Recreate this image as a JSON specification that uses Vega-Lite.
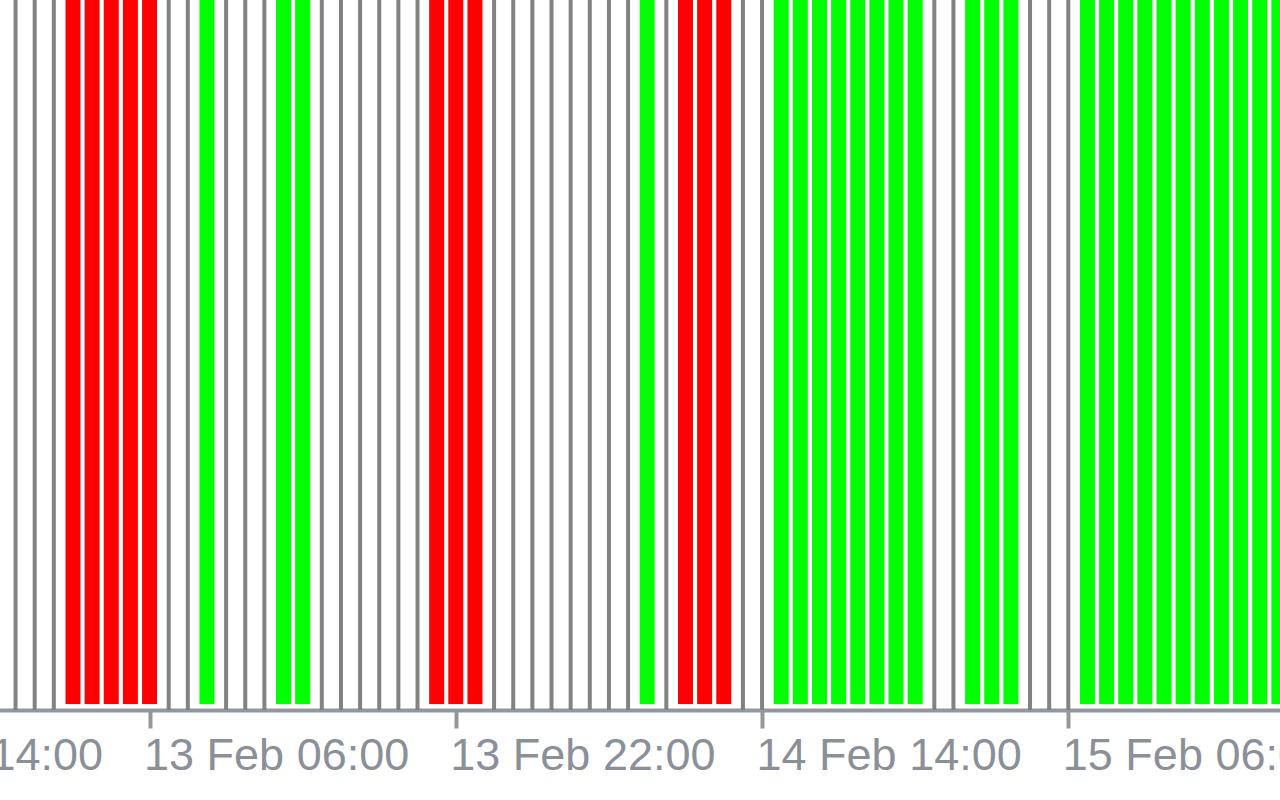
{
  "$schema": "https://vega.github.io/schema/vega-lite/v6.json",
  "width": 1493,
  "height": 710,
  "autosize": {"type": "none"},
  "padding": {"left": -195, "top": 0, "right": -18, "bottom": 90},
  "background": "white",
  "config": {"view": {"stroke": null}},
  "data": {"values": [
    {"time": "2025-02-12T23:00:00Z", "signal": "none", "v": 1},
    {"time": "2025-02-13T00:00:00Z", "signal": "none", "v": 1},
    {"time": "2025-02-13T01:00:00Z", "signal": "none", "v": 1},
    {"time": "2025-02-13T02:00:00Z", "signal": "sell", "v": 1},
    {"time": "2025-02-13T03:00:00Z", "signal": "sell", "v": 1},
    {"time": "2025-02-13T04:00:00Z", "signal": "sell", "v": 1},
    {"time": "2025-02-13T05:00:00Z", "signal": "sell", "v": 1},
    {"time": "2025-02-13T06:00:00Z", "signal": "sell", "v": 1},
    {"time": "2025-02-13T07:00:00Z", "signal": "none", "v": 1},
    {"time": "2025-02-13T08:00:00Z", "signal": "none", "v": 1},
    {"time": "2025-02-13T09:00:00Z", "signal": "buy", "v": 1},
    {"time": "2025-02-13T10:00:00Z", "signal": "none", "v": 1},
    {"time": "2025-02-13T11:00:00Z", "signal": "none", "v": 1},
    {"time": "2025-02-13T12:00:00Z", "signal": "none", "v": 1},
    {"time": "2025-02-13T13:00:00Z", "signal": "buy", "v": 1},
    {"time": "2025-02-13T14:00:00Z", "signal": "buy", "v": 1},
    {"time": "2025-02-13T15:00:00Z", "signal": "none", "v": 1},
    {"time": "2025-02-13T16:00:00Z", "signal": "none", "v": 1},
    {"time": "2025-02-13T17:00:00Z", "signal": "none", "v": 1},
    {"time": "2025-02-13T18:00:00Z", "signal": "none", "v": 1},
    {"time": "2025-02-13T19:00:00Z", "signal": "none", "v": 1},
    {"time": "2025-02-13T20:00:00Z", "signal": "none", "v": 1},
    {"time": "2025-02-13T21:00:00Z", "signal": "sell", "v": 1},
    {"time": "2025-02-13T22:00:00Z", "signal": "sell", "v": 1},
    {"time": "2025-02-13T23:00:00Z", "signal": "sell", "v": 1},
    {"time": "2025-02-14T00:00:00Z", "signal": "none", "v": 1},
    {"time": "2025-02-14T01:00:00Z", "signal": "none", "v": 1},
    {"time": "2025-02-14T02:00:00Z", "signal": "none", "v": 1},
    {"time": "2025-02-14T03:00:00Z", "signal": "none", "v": 1},
    {"time": "2025-02-14T04:00:00Z", "signal": "none", "v": 1},
    {"time": "2025-02-14T05:00:00Z", "signal": "none", "v": 1},
    {"time": "2025-02-14T06:00:00Z", "signal": "none", "v": 1},
    {"time": "2025-02-14T07:00:00Z", "signal": "none", "v": 1},
    {"time": "2025-02-14T08:00:00Z", "signal": "buy", "v": 1},
    {"time": "2025-02-14T09:00:00Z", "signal": "none", "v": 1},
    {"time": "2025-02-14T10:00:00Z", "signal": "sell", "v": 1},
    {"time": "2025-02-14T11:00:00Z", "signal": "sell", "v": 1},
    {"time": "2025-02-14T12:00:00Z", "signal": "sell", "v": 1},
    {"time": "2025-02-14T13:00:00Z", "signal": "none", "v": 1},
    {"time": "2025-02-14T14:00:00Z", "signal": "none", "v": 1},
    {"time": "2025-02-14T15:00:00Z", "signal": "buy", "v": 1},
    {"time": "2025-02-14T16:00:00Z", "signal": "buy", "v": 1},
    {"time": "2025-02-14T17:00:00Z", "signal": "buy", "v": 1},
    {"time": "2025-02-14T18:00:00Z", "signal": "buy", "v": 1},
    {"time": "2025-02-14T19:00:00Z", "signal": "buy", "v": 1},
    {"time": "2025-02-14T20:00:00Z", "signal": "buy", "v": 1},
    {"time": "2025-02-14T21:00:00Z", "signal": "buy", "v": 1},
    {"time": "2025-02-14T22:00:00Z", "signal": "buy", "v": 1},
    {"time": "2025-02-14T23:00:00Z", "signal": "none", "v": 1},
    {"time": "2025-02-15T00:00:00Z", "signal": "none", "v": 1},
    {"time": "2025-02-15T01:00:00Z", "signal": "buy", "v": 1},
    {"time": "2025-02-15T02:00:00Z", "signal": "buy", "v": 1},
    {"time": "2025-02-15T03:00:00Z", "signal": "buy", "v": 1},
    {"time": "2025-02-15T04:00:00Z", "signal": "none", "v": 1},
    {"time": "2025-02-15T05:00:00Z", "signal": "none", "v": 1},
    {"time": "2025-02-15T06:00:00Z", "signal": "none", "v": 1},
    {"time": "2025-02-15T07:00:00Z", "signal": "buy", "v": 1},
    {"time": "2025-02-15T08:00:00Z", "signal": "buy", "v": 1},
    {"time": "2025-02-15T09:00:00Z", "signal": "buy", "v": 1},
    {"time": "2025-02-15T10:00:00Z", "signal": "buy", "v": 1},
    {"time": "2025-02-15T11:00:00Z", "signal": "buy", "v": 1},
    {"time": "2025-02-15T12:00:00Z", "signal": "buy", "v": 1},
    {"time": "2025-02-15T13:00:00Z", "signal": "buy", "v": 1},
    {"time": "2025-02-15T14:00:00Z", "signal": "buy", "v": 1},
    {"time": "2025-02-15T15:00:00Z", "signal": "buy", "v": 1},
    {"time": "2025-02-15T16:00:00Z", "signal": "buy", "v": 1},
    {"time": "2025-02-15T17:00:00Z", "signal": "buy", "v": 1}
  ]},
  "encoding": {
    "x": {
      "field": "time",
      "type": "temporal",
      "scale": {
        "type": "utc",
        "nice": false,
        "padding": 0,
        "domain": [
          {"year": 2025, "month": 2, "date": 12, "hours": 12, "utc": true},
          {"year": 2025, "month": 2, "date": 15, "hours": 18, "utc": true}
        ]
      },
      "axis": {
        "title": null,
        "grid": false,
        "values": [
          {"year": 2025, "month": 2, "date": 12, "hours": 14, "utc": true},
          {"year": 2025, "month": 2, "date": 13, "hours": 6, "utc": true},
          {"year": 2025, "month": 2, "date": 13, "hours": 22, "utc": true},
          {"year": 2025, "month": 2, "date": 14, "hours": 14, "utc": true},
          {"year": 2025, "month": 2, "date": 15, "hours": 6, "utc": true}
        ],
        "labelExpr": "utcFormat(datum.value, '%d %b %H:%M')",
        "labelAlign": "left",
        "labelBaseline": "top",
        "labelFont": "Liberation Sans",
        "labelFontSize": 45,
        "labelColor": "#8a8f98",
        "labelPadding": 5,
        "labelOffset": -6,
        "labelLimit": 0,
        "labelOverlap": false,
        "labelFlush": false,
        "domainColor": "#92979d",
        "domainWidth": 4,
        "tickColor": "#92979d",
        "tickWidth": 4,
        "tickSize": 18
      }
    }
  },
  "layer": [
    {
      "transform": [{"filter": "datum.signal === 'none'"}],
      "mark": {"type": "rule", "color": "#828282", "strokeWidth": 4},
      "encoding": {}
    },
    {
      "transform": [{"filter": "datum.signal !== 'none'"}],
      "mark": {"type": "bar", "width": 15},
      "encoding": {
        "y": {"field": "v", "type": "quantitative", "scale": {"domain": [0, 1], "nice": false, "range": [704, 0]}, "axis": null},
        "color": {
          "field": "signal",
          "type": "nominal",
          "scale": {"domain": ["sell", "buy"], "range": ["#ff0000", "#00ff00"]},
          "legend": null
        }
      }
    }
  ]
}
